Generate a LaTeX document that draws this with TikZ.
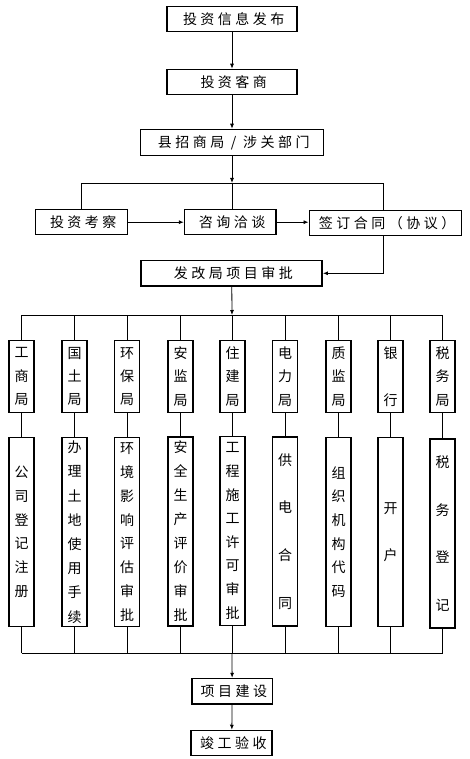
\documentclass[tikz,border=0pt]{standalone}
\usepackage{fontspec}
\newfontfamily\cjk{Noto Sans CJK SC}
\newfontfamily\cjkls[LetterSpace=25]{Noto Sans CJK SC}
\usetikzlibrary{arrows.meta}
\newcommand\padl{\kern3.5pt}
\begin{document}
\begin{tikzpicture}[x=1pt,y=-1pt,
  hbox/.style={draw, line width=1.5pt, inner sep=0pt, font=\cjkls\fontsize{14pt}{16pt}\selectfont},
  vbox/.style={draw, line width=1.5pt, inner sep=0pt, minimum width=25pt, align=center},
  conn/.style={line width=0.8pt},
  arr/.style={conn, -{Latex[length=5pt,width=4pt]}}]
\useasboundingbox (0,0) rectangle (470,759);
% top chain
\node[hbox, minimum width=130pt, minimum height=25pt] (n1) at (232,19) {\padl 投资信息发布};
\node[hbox, minimum width=130pt, minimum height=25pt] (n2) at (232,82) {\padl 投资客商};
\node[hbox, minimum width=183pt, minimum height=26pt] (n3) at (232,142.5) {\padl 县招商局 / 涉关部门};
\node[hbox, minimum width=92pt, minimum height=25pt] (n4) at (81.5,222.2) {\padl 投资考察};
\node[hbox, minimum width=91.5pt, minimum height=25pt] (n5) at (230.3,222.2) {\padl 咨询洽谈};
\node[hbox, minimum width=152pt, minimum height=25pt] (n6) at (385.3,222.8) {\padl 签订合同（协议）};
\node[hbox, minimum width=181pt, minimum height=25.5pt] (n7) at (231.7,273.3) {\padl 发改局项目审批};
\node[hbox, minimum width=80.5pt, minimum height=25.5pt] (n8) at (232.2,691.3) {\padl 项目建设};
\node[hbox, minimum width=81pt, minimum height=25pt] (n9) at (231.7,743) {\padl 竣工验收};

\coordinate (jT) at (232,183);
\coordinate (jR) at (383,183);
\coordinate (jB) at (232,315);
\coordinate (bL) at (21.7,315);
\coordinate (bR) at (442.7,315);
\coordinate (jB2) at (232,653);
\coordinate (cL) at (21.7,653);
\coordinate (cR) at (442.7,653);

\draw[arr] (n1) -- (n2);
\draw[arr] (n2) -- (n3);
\draw[arr] (n3) -- (jT);
\draw[conn] (n4.north) |- (jR) -- (jR |- n6.north);
\draw[conn] (jT) -- (jT |- n5.north);
\draw[arr] (n4.east) -- (n5.west);
\draw[arr] (n5.east) -- (n6.west |- n5.east);
\draw[arr] (jR |- n6.south) |- (n7.east);
\draw[arr] (n7) -- (jB);
\draw[conn] (bL) -- (bR);
\draw[conn] (cL) -- (cR);
\draw[arr] (jB2) -- (n8);
\draw[arr] (n8) -- (n9);

\foreach \i/\x/\up/\ups/\low/\lows/\ly in {
  1/21.7/{工\\商\\局}/23.3/{公\\司\\登\\记\\注\\册}/23.7/532,
  2/74.7/{国\\土\\局}/23.3/{办\\理\\土\\地\\使\\用\\手\\续}/24.2/532,
  3/127/{环\\保\\局}/23.3/{环\\境\\影\\响\\评\\估\\审\\批}/23.8/532,
  4/180.5/{安\\监\\局}/23.3/{安\\全\\生\\产\\评\\价\\审\\批}/24/531.5,
  5/232.5/{住\\建\\局}/23.3/{工\\程\\施\\工\\许\\可\\审\\批}/23.6/531,
  6/285/{电\\力\\局}/23.3/{供\\电\\合\\同}/47.6/531.5,
  7/338.5/{质\\监\\局}/23.3/{组\\织\\机\\构\\代\\码}/23.7/532,
  8/390.5/{银\\行}/47/{开\\户}/47/532,
  9/442.5/{税\\务\\局}/23.3/{税\\务\\登\\记}/47.7/533.5}{
  \node[vbox, minimum height=72pt, font=\cjk\fontsize{14pt}{\ups pt}\selectfont] (u\i) at (\x,376.5) {\up};
  \node[vbox, minimum height=189pt, font=\cjk\fontsize{14pt}{\lows pt}\selectfont] (l\i) at (\x,\ly) {\low};
  \draw[conn] (u\i.north |- bL) -- (u\i.north);
  \draw[conn] (u\i.south) -- (l\i.north);
  \draw[conn] (l\i.south) -- (l\i.south |- cL);
}
\end{tikzpicture}
\end{document}
